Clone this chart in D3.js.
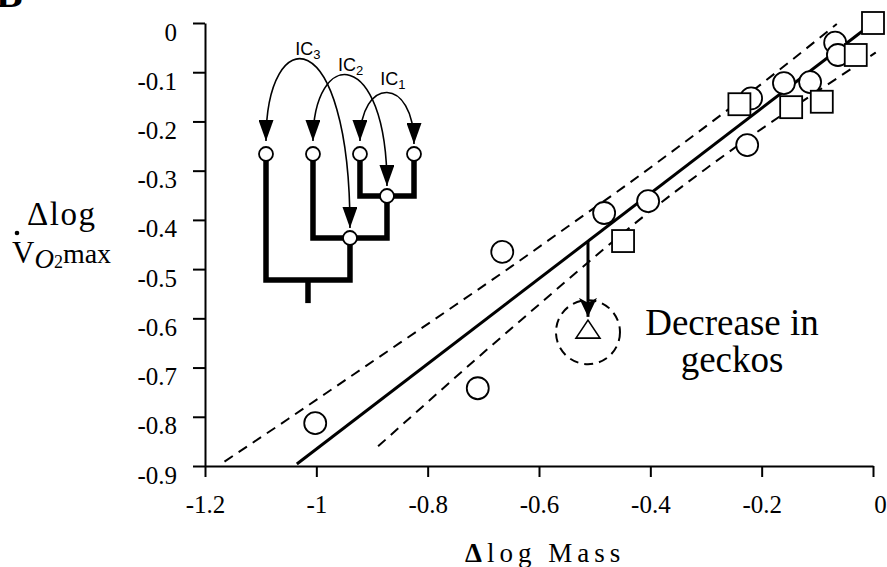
<!DOCTYPE html>
<html><head><meta charset="utf-8">
<script src="https://cdn.jsdelivr.net/npm/d3@7"></script>
<style>
html,body{margin:0;padding:0;background:#fff;}
svg{display:block;}
</style></head>
<body>
<svg id="chart" width="887" height="567"></svg>
<script>
// ---------------- data ----------------
const circleX = [-1.002, -0.710, -0.666, -0.483, -0.404, -0.226, -0.219, -0.160, -0.113, -0.068, -0.063];
const circleY = [-0.813, -0.742, -0.465, -0.386, -0.362, -0.248, -0.153, -0.122, -0.120, -0.040, -0.065];
const squareX = [0.000, -0.031, -0.240, -0.147, -0.092, -0.449];
const squareY = [0.000, -0.065, -0.165, -0.171, -0.160, -0.443];
const geckoX = [-0.512];
const geckoY = [-0.624];
const geckoArrowEndY = -0.597;
const fitX = [-1.035, 0.0];
const fitY = [-0.896, 0.0];
const upperBandX = [-1.165, -1.05, -0.95, -0.85, -0.75, -0.65, -0.55, -0.45, -0.35, -0.25, -0.15, -0.065];
const upperBandY = [-0.891, -0.804, -0.727, -0.650, -0.573, -0.495, -0.415, -0.335, -0.252, -0.167, -0.079, -0.002];
const lowerBandX = [-0.889, -0.80, -0.70, -0.60, -0.50, -0.40, -0.30, -0.20, -0.10, 0.005];
const lowerBandY = [-0.860, -0.770, -0.670, -0.572, -0.475, -0.382, -0.296, -0.215, -0.139, -0.060];
const xTicks = [-1.2, -1, -0.8, -0.6, -0.4, -0.2, 0];
const xTickLabels = ["-1.2", "-1", "-0.8", "-0.6", "-0.4", "-0.2", "0"];
const yTicks = [0, -0.1, -0.2, -0.3, -0.4, -0.5, -0.6, -0.7, -0.8, -0.9];
const yTickLabels = ["0", "-0.1", "-0.2", "-0.3", "-0.4", "-0.5", "-0.6", "-0.7", "-0.8", "-0.9"];
const annotationLines = ["Decrease in", "geckos"];

// inset tree (schematic units: tip position, level)
const treeTipPos = [0, 1, 2, 3.15];
const treeNodes = [ // internal nodes: children ("t" tip index / "n" node index), level
  {name: "A", kids: [["t", 2], ["t", 3]], level: 1, marker: true},
  {name: "B", kids: [["t", 1], ["n", 0]], level: 2, marker: true},
  {name: "R", kids: [["t", 0], ["n", 1]], level: 3, marker: false}
];
const rootStemLevel = 3.55;
const icLabels = ["IC", "IC", "IC"];
const icSubs = ["1", "2", "3"];
const icPairs = [[["t", 2], ["t", 3]], [["t", 1], ["n", 0]], [["t", 0], ["n", 1]]];
const icCtrlLevel = [-1.86, -2.57, -3.2];
const icLabelPos = [[2.43, -1.64], [1.53, -1.98], [0.62, -2.36]];

// ---------------- setup ----------------
const svg = d3.select("#chart");
const serif = "'Liberation Serif','Times New Roman',Times,serif";
const sans = "'Liberation Sans',Arial,Helvetica,sans-serif";

const x = d3.scaleLinear().domain([-1.2, 0]).range([205, 873]);
const y = d3.scaleLinear().domain([-0.9, 0]).range([466, 23]);

const defs = svg.append("defs");
defs.append("marker").attr("id", "icHead")
  .attr("markerUnits", "userSpaceOnUse").attr("viewBox", "0 -7.5 21 15")
  .attr("refX", 21).attr("refY", 0).attr("markerWidth", 21).attr("markerHeight", 15)
  .attr("orient", "auto-start-reverse")
  .append("path").attr("d", "M0,-7.5L21,0L0,7.5Z").attr("fill", "#000");
defs.append("marker").attr("id", "geckoHead")
  .attr("markerUnits", "userSpaceOnUse").attr("viewBox", "0 -9 19 18")
  .attr("refX", 19).attr("refY", 0).attr("markerWidth", 19).attr("markerHeight", 18)
  .attr("orient", "auto")
  .append("path").attr("d", "M0,-9L19,0L0,9L5,0Z").attr("fill", "#000");

// partial panel letter at top-left (cropped in the original)
svg.append("text").attr("x", -4).attr("y", 7).style("font-family", serif)
  .attr("font-weight", "bold").attr("font-size", 40).text("B");

// ---------------- axes ----------------
const yAxis = d3.axisLeft(y).tickValues(yTicks).tickFormat((d, i) => yTickLabels[i])
  .tickSize(12).tickSizeOuter(0).tickPadding(16);
const gy = svg.append("g").attr("transform", `translate(${x(-1.2)},0)`).call(yAxis)
  .attr("font-family", serif).attr("font-size", 25);
gy.selectAll("text").attr("dy", null).attr("y", 17)
  .style("font-family", serif).style("font-size", "25px").attr("fill", "#000");

const xAxis = d3.axisBottom(x).tickValues(xTicks).tickFormat((d, i) => xTickLabels[i])
  .tickSize(11).tickSizeOuter(0);
const gx = svg.append("g").attr("transform", `translate(0,${y(-0.9)})`).call(xAxis)
  .attr("font-family", serif).attr("font-size", 25);
gx.selectAll("text").attr("dy", null).attr("y", 47)
  .attr("dx", (d) => d === 0 ? 7 : 0)
  .style("font-family", serif).style("font-size", "25px").attr("fill", "#000");
[gx, gy].forEach(g => {
  g.select(".domain").attr("stroke", "#000").attr("stroke-width", 2);
  g.selectAll(".tick line").attr("stroke", "#000").attr("stroke-width", 2);
});

// ---------------- regression and bands ----------------
const line = d3.line().x(d => x(d[0])).y(d => y(d[1]));
const smooth = d3.line().x(d => x(d[0])).y(d => y(d[1])).curve(d3.curveMonotoneX);
svg.append("path").datum(upperBandX.map((v, i) => [v, upperBandY[i]])).attr("d", smooth)
  .attr("fill", "none").attr("stroke", "#000").attr("stroke-width", 2).attr("stroke-dasharray", "10,7");
svg.append("path").datum(lowerBandX.map((v, i) => [v, lowerBandY[i]])).attr("d", smooth)
  .attr("fill", "none").attr("stroke", "#000").attr("stroke-width", 2).attr("stroke-dasharray", "10,7");
svg.append("path").datum(fitX.map((v, i) => [v, fitY[i]])).attr("d", line)
  .attr("fill", "none").attr("stroke", "#000").attr("stroke-width", 3);

// ---------------- gecko arrow and circle ----------------
const fitAt = d3.scaleLinear().domain(fitX).range(fitY);
svg.append("line")
  .attr("x1", x(geckoX[0])).attr("x2", x(geckoX[0]))
  .attr("y1", y(fitAt(geckoX[0]))).attr("y2", y(geckoArrowEndY))
  .attr("stroke", "#000").attr("stroke-width", 3).attr("marker-end", "url(#geckoHead)");
svg.append("circle").attr("cx", x(geckoX[0])).attr("cy", y(geckoY[0]) + 2).attr("r", 32)
  .attr("fill", "none").attr("stroke", "#000").attr("stroke-width", 2).attr("stroke-dasharray", "9,6");
svg.selectAll(".gecko").data(geckoX).join("path").attr("class", "gecko")
  .attr("transform", (d, i) => `translate(${x(d)},${y(geckoY[i])})`)
  .attr("d", "M0,-10L12,8L-12,8Z")
  .attr("fill", "#fff").attr("stroke", "#000").attr("stroke-width", 1.6);

// ---------------- points ----------------
svg.selectAll(".pt-c").data(circleX).join("circle").attr("class", "pt-c")
  .attr("cx", d => x(d)).attr("cy", (d, i) => y(circleY[i])).attr("r", 11)
  .attr("fill", "#fff").attr("stroke", "#000").attr("stroke-width", 1.8);
svg.selectAll(".pt-s").data(squareX).join("rect").attr("class", "pt-s")
  .attr("x", d => x(d) - 11).attr("y", (d, i) => y(squareY[i]) - 11)
  .attr("width", 22).attr("height", 22)
  .attr("fill", "#fff").attr("stroke", "#000").attr("stroke-width", 1.8);

// ---------------- annotation ----------------
svg.append("text").attr("x", 732).attr("y", 335).attr("text-anchor", "middle")
  .style("font-family", serif).attr("font-size", 37).text(annotationLines[0]);
svg.append("text").attr("x", 732).attr("y", 372).attr("text-anchor", "middle")
  .style("font-family", serif).attr("font-size", 37).text(annotationLines[1]);

// ---------------- axis titles ----------------
svg.append("text").attr("x", 27).attr("y", 225).style("font-family", serif)
  .attr("font-size", 33).attr("letter-spacing", 1.5).text("\u0394log");
const vt = svg.append("text").attr("x", 12).attr("y", 263).style("font-family", serif).attr("font-size", 31);
vt.append("tspan").text("V");
vt.append("tspan").attr("font-style", "italic").attr("font-size", 27).attr("dy", 5).text("O");
vt.append("tspan").attr("font-size", 18).text("2");
vt.append("tspan").attr("font-size", 28).attr("dy", -5).text("max");
svg.append("circle").attr("cx", 17).attr("cy", 233).attr("r", 2.3).attr("fill", "#000");

const xl = svg.append("text").attr("x", 465).attr("y", 562).style("font-family", serif)
  .attr("font-size", 27).attr("letter-spacing", 5);
xl.append("tspan").attr("font-weight", "bold").text("\u0394");
xl.append("tspan").text("log Mass");

// ---------------- inset tree ----------------
const ix = d3.scaleLinear().domain([0, 3.15]).range([266, 414]);
const iy = d3.scaleLinear().domain([0, 3]).range([154, 280]);
const nodePos = [];
function posOf(ref) {
  if (ref[0] === "t") return {x: ix(treeTipPos[ref[1]]), y: iy(0)};
  return nodePos[ref[1]];
}
treeNodes.forEach((n, k) => {
  const a = posOf(n.kids[0]), b = posOf(n.kids[1]);
  nodePos[k] = {x: (a.x + b.x) / 2, y: iy(n.level)};
});
const tree = svg.append("g");
treeNodes.forEach((n, k) => {
  const a = posOf(n.kids[0]), b = posOf(n.kids[1]), p = nodePos[k];
  tree.append("path").attr("d", `M${a.x},${a.y}V${p.y}H${b.x}V${b.y}`)
    .attr("fill", "none").attr("stroke", "#000").attr("stroke-width", 5.5);
});
const root = nodePos[2];
tree.append("path").attr("d", `M${root.x},${root.y}V${iy(rootStemLevel)}`)
  .attr("stroke", "#000").attr("stroke-width", 5.5);

// IC arrows
const nodeR = 7;
icPairs.forEach((pr, k) => {
  const a = posOf(pr[0]), b = posOf(pr[1]);
  const ya = a.y - nodeR - 6, yb = b.y - nodeR - 3;
  const c = iy(icCtrlLevel[k]);
  tree.append("path").attr("d", `M${a.x},${ya}C${a.x},${c} ${b.x},${c} ${b.x},${yb}`)
    .attr("fill", "none").attr("stroke", "#000").attr("stroke-width", 1.6)
    .attr("marker-start", "url(#icHead)").attr("marker-end", "url(#icHead)");
  const t = tree.append("text").attr("x", ix(icLabelPos[k][0])).attr("y", iy(icLabelPos[k][1]))
    .style("font-family", sans).attr("font-size", 18);
  t.append("tspan").text(icLabels[k]);
  t.append("tspan").attr("font-size", 13).attr("dy", 4).text(icSubs[k]);
});

// node markers
const markerPts = treeTipPos.map(p => ({x: ix(p), y: iy(0)}))
  .concat(treeNodes.map((n, k) => n.marker ? nodePos[k] : null).filter(Boolean));
tree.selectAll(".nd").data(markerPts).join("circle").attr("class", "nd")
  .attr("cx", d => d.x).attr("cy", d => d.y).attr("r", nodeR)
  .attr("fill", "#fff").attr("stroke", "#000").attr("stroke-width", 1.8);
</script>
</body></html>
